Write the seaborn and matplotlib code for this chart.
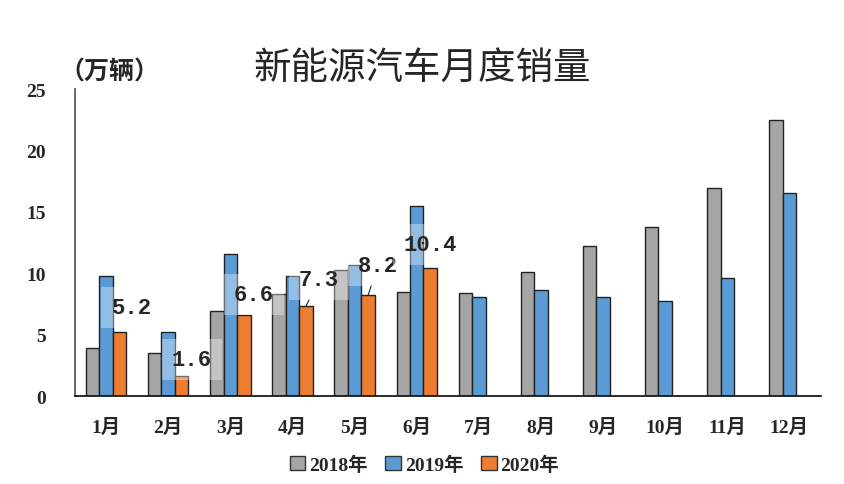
import matplotlib

matplotlib.use("Agg")

import matplotlib.pyplot as plt
import numpy as np
import pandas as pd
import seaborn as sns

months = ["1月", "2月", "3月", "4月", "5月", "6月", "7月", "8月", "9月", "10月", "11月", "12月"]
sales_2018 = [3.9, 3.5, 6.9, 8.3, 10.3, 8.5, 8.4, 10.1, 12.2, 13.8, 16.9, 22.5]
sales_2019 = [9.8, 5.2, 11.6, 9.8, 10.7, 15.5, 8.1, 8.6, 8.1, 7.7, 9.6, 16.5]
sales_2020 = [5.2, 1.6, 6.6, 7.3, 8.2, 10.4]
years = ["2018年", "2019年", "2020年"]

# label offsets in pixels (dx, dy) and whether a leader line is drawn
label_offsets = [(12, 25), (10, 17), (10, 20), (13, 27), (10, 30), (0, 24)]
label_leader = [False, False, False, True, True, False]

sns.set_theme(style="white")
plt.rcParams["font.family"] = ["Liberation Serif", "Noto Sans CJK SC", "DejaVu Sans"]

rows = []
for year, vals in zip(years, [sales_2018, sales_2019, sales_2020]):
    for m, v in zip(months, vals):
        rows.append({"month": m, "year": year, "sales": v})
df = pd.DataFrame(rows)

colors = ["#A5A5A5", "#5B9BD5", "#ED7D31"]

fig = plt.figure(figsize=(8.44, 4.85), dpi=100)
ax = fig.add_axes([0.0889, 0.1814, 0.8833, 0.633])

sns.barplot(
    data=df, x="month", y="sales", hue="year", order=months, hue_order=years,
    palette=colors, width=0.65, edgecolor="#222222", linewidth=1.0,
    errorbar=None, ax=ax, saturation=1,
)

ax.set_ylim(0, 25)
ax.set_xlim(-0.5, 11.5)
ax.set_yticks([0, 5, 10, 15, 20, 25])
ax.set_xlabel("")
ax.set_ylabel("")
for s in ["top", "right"]:
    ax.spines[s].set_visible(False)
ax.spines["left"].set_color("#555555")
ax.spines["bottom"].set_color("#111111")
ax.tick_params(axis="y", length=0, pad=21, labelsize=14)
ax.tick_params(axis="x", length=0, pad=16, labelsize=14)
for lbl in ax.get_xticklabels() + ax.get_yticklabels():
    lbl.set_fontweight("bold")

# data labels on the 2020 bars
bars_2020 = ax.containers[2]
for bar, val, (dx, dy), lead in zip(bars_2020, sales_2020, label_offsets, label_leader):
    x = bar.get_x() + bar.get_width() / 2
    y = bar.get_height()
    ax.annotate(
        f"{val:.1f}", xy=(x, y), xytext=(dx, dy), textcoords="offset pixels",
        ha="center", va="center", fontsize=16, fontweight="bold",
        family=["Liberation Mono", "DejaVu Sans Mono"],
        bbox={"boxstyle": "square,pad=0.45", "fc": "white", "ec": "none", "alpha": 0.35},
        arrowprops={"arrowstyle": "-", "color": "#222222", "lw": 0.8,
                    "shrinkA": 9, "shrinkB": 0} if lead else None,
        zorder=5,
    )

ax.legend_.remove()
handles = [plt.Rectangle((0, 0), 1, 1, fc=c, ec="#333333", lw=1.0) for c in colors]
fig.legend(
    handles, years, loc="center", bbox_to_anchor=(0.503, 0.04), ncol=3, frameon=False,
    prop={"size": 14, "weight": "bold"}, handlelength=0.8, handleheight=0.8,
    handletextpad=0.2, columnspacing=0.9,
)

fig.text(0.5, 0.86, "新能源汽车月度销量", ha="center", va="center", fontsize=27,
         family=["Noto Sans CJK SC"])
fig.text(0.07, 0.85, "（万辆）", ha="left", va="center", fontsize=18,
         family=["Noto Sans CJK SC"], fontweight="bold")

fig.savefig("out.png", dpi=100)
